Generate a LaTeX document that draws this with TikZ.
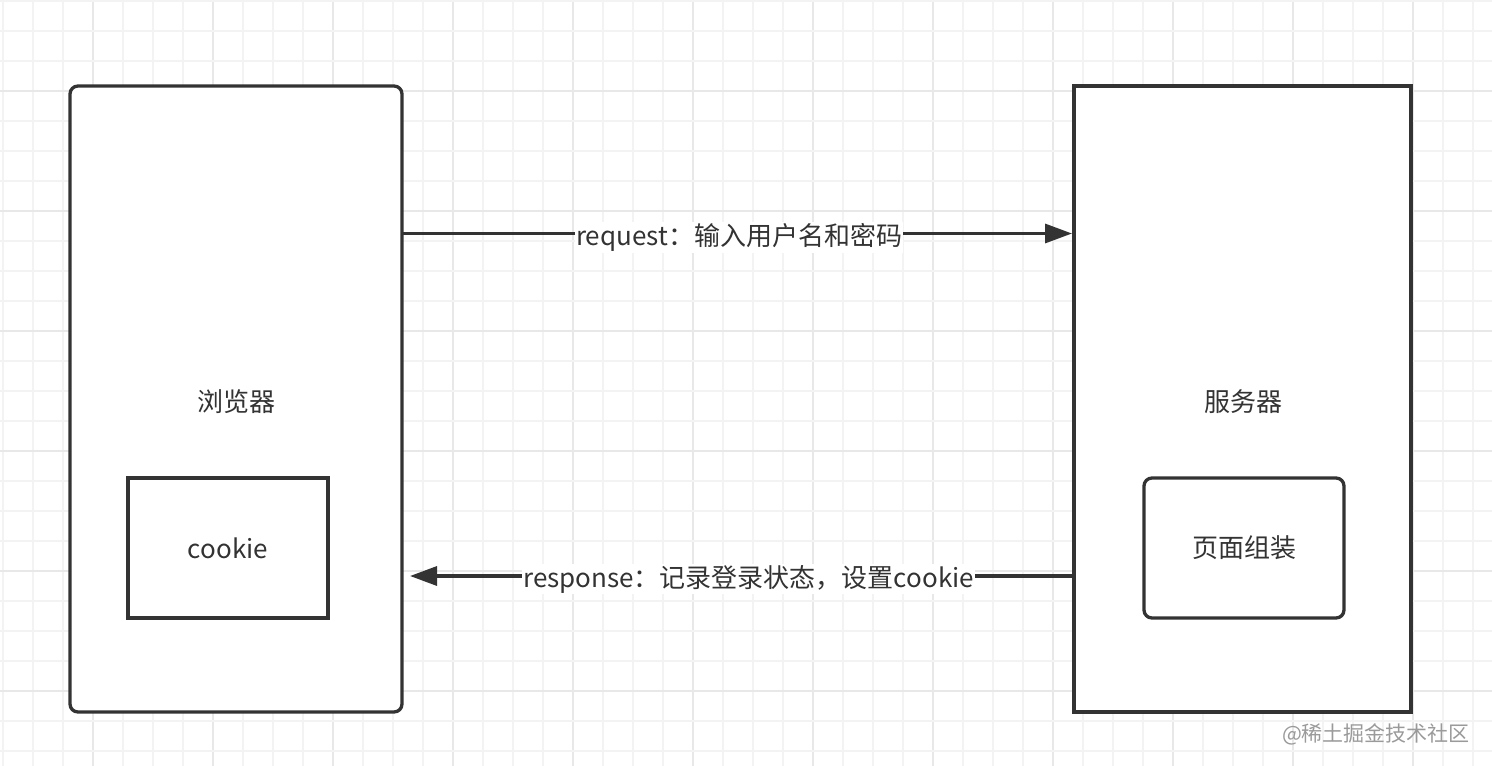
\documentclass[tikz,border=0pt]{standalone}
\usepackage{fontspec}
\setmainfont{Noto Sans CJK SC}
\usetikzlibrary{arrows.meta}
\definecolor{ink}{HTML}{333333}
\definecolor{gridminor}{HTML}{F3F3F3}
\definecolor{gridmajor}{HTML}{E8E8E8}
\definecolor{wm}{HTML}{9A9A9A}
\tikzset{
  box/.style={draw=ink, line width=3.3pt, fill=white},
  rbox/.style={box, rounded corners=8pt},
  lbl/.style={text=ink, font=\fontsize{26}{30}\selectfont},
  elbl/.style={lbl, fill=white, inner sep=1pt},
  conn/.style={draw=ink, line width=3.3pt, -{Triangle[length=27pt,width=19pt]}},
}
\begin{document}
\begin{tikzpicture}[x=1pt,y=-1pt]
\useasboundingbox (0,0) rectangle (1492,766);
\fill[white] (0,0) rectangle (1492,766);
% grid
\foreach \k in {0,...,49} {
  \pgfmathtruncatemacro{\m}{mod(\k,4)}
  \ifnum\m=3
    \draw[gridmajor, line width=1.5pt] ({3+30*\k},0) -- ({3+30*\k},766);
  \else
    \draw[gridminor, line width=1.5pt] ({3+30*\k},0) -- ({3+30*\k},766);
  \fi
}
\foreach \k in {0,...,25} {
  \pgfmathtruncatemacro{\m}{mod(\k,4)}
  \ifnum\m=3
    \draw[gridmajor, line width=1.5pt] (0,{1+30*\k}) -- (1492,{1+30*\k});
  \else
    \draw[gridminor, line width=1.5pt] (0,{1+30*\k}) -- (1492,{1+30*\k});
  \fi
}
% boxes
\draw[rbox] (70,86) rectangle (402,712);
\node (browser) at (236,86) [minimum width=332pt, minimum height=626pt, anchor=north, inner sep=0pt] {};
\draw[box] (1074,86) rectangle (1411,712);
\node (server) at (1242.5,86) [minimum width=337pt, minimum height=626pt, anchor=north, inner sep=0pt] {};
\node[lbl] (browserlbl) at (236,402) {浏览器};
\node[lbl] (serverlbl) at (1243,402) {服务器};
\node[box, minimum width=200pt, minimum height=140pt, lbl] (cookie) at (228,548) {cookie};
\node[rbox, minimum width=200pt, minimum height=140pt, lbl] (page) at (1244,548) {页面组装};
% connectors
\coordinate (reqS) at (402,233.5);
\coordinate (reqE) at (1072,233.5);
\coordinate (resS) at (1074,576);
\coordinate (resE) at (410,576);
\draw[conn] (reqS) -- node[elbl, pos=0.503, yshift=-4pt] {request：输入用户名和密码} (reqE);
\draw[conn] (resS) -- node[elbl, pos=0.49, yshift=-3pt] {response：记录登录状态，设置cookie} (resE);
% watermark
\node[text=wm, font=\fontsize{21}{23}\selectfont, inner sep=0pt] (wmark) at (1376,734) {@稀土掘金技术社区};
\end{tikzpicture}
\end{document}
